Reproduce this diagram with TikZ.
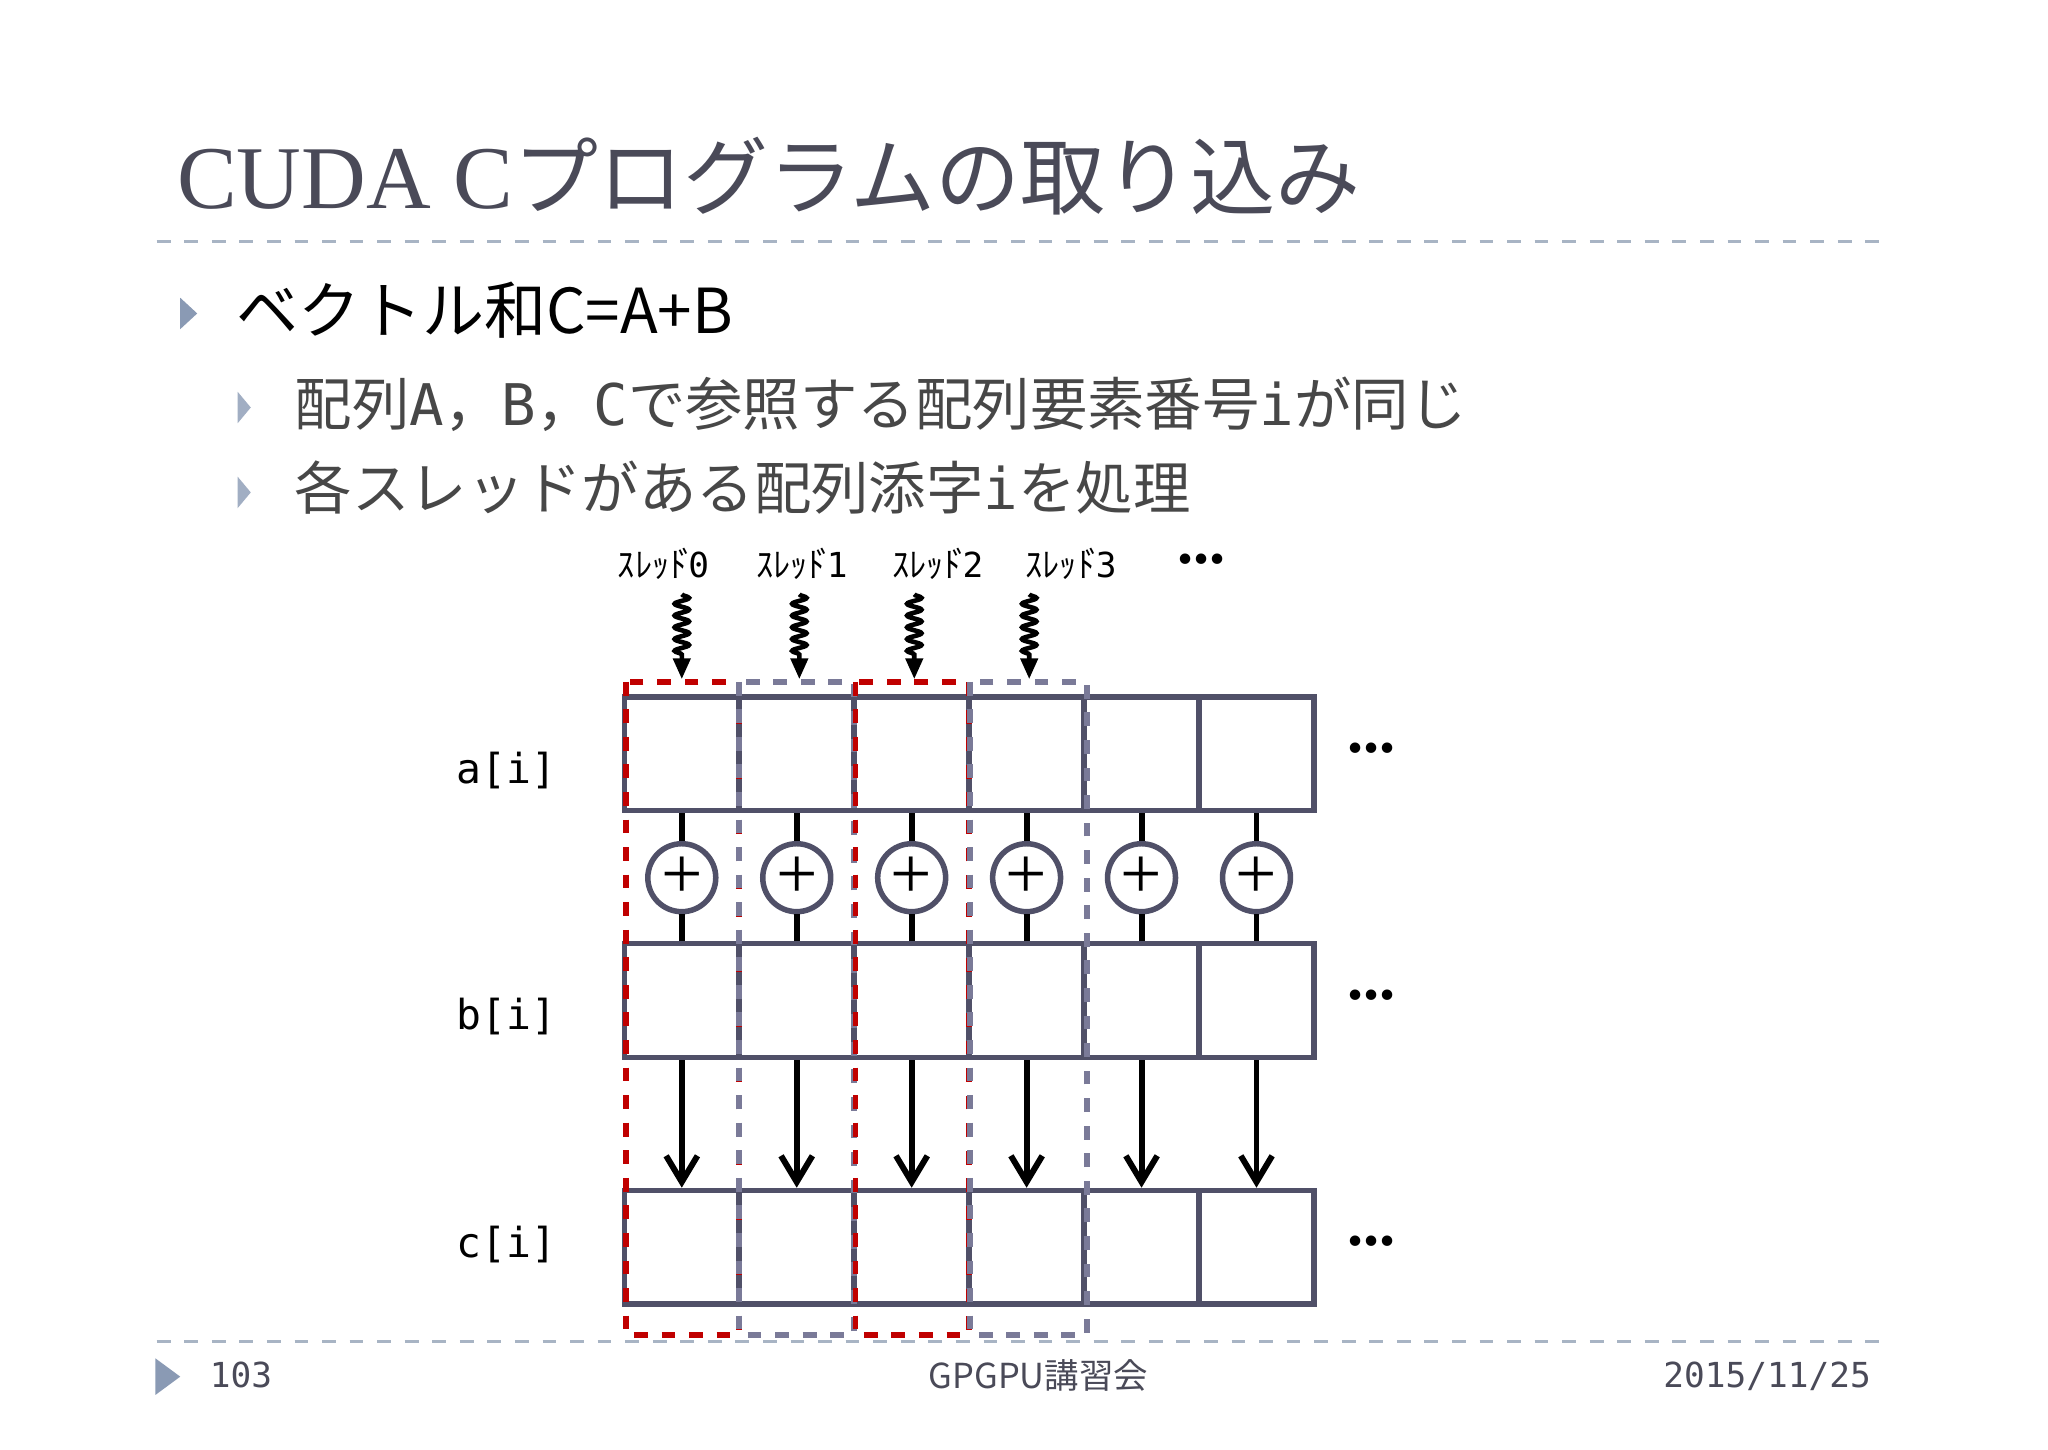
\documentclass[tikz,border=0pt]{standalone}
\usepackage{fontspec}
\setmainfont{Liberation Serif}
\newfontfamily\cjk{Noto Sans CJK JP}
\newfontfamily\mono{DejaVu Sans Mono}
\usetikzlibrary{decorations.pathmorphing,arrows.meta}
\definecolor{boxc}{HTML}{505068}
\definecolor{titc}{HTML}{4A4A58}
\definecolor{dashc}{HTML}{A8B4C4}
\definecolor{tric}{HTML}{8A9AB4}
\definecolor{redc}{HTML}{C00000}
\definecolor{grayd}{HTML}{7A7A98}
\tikzset{
 cell/.style={draw=boxc,line width=1.2pt,fill=white,minimum width=0.88cm,minimum height=0.87cm,inner sep=0},
 plus/.style={circle,draw=boxc,line width=1.2pt,fill=white,minimum size=0.52cm,inner sep=0,font=\fontsize{16pt}{16pt}\selectfont},
 lab/.style={font=\mono\fontsize{9pt}{9pt}\selectfont},
 thr/.style={font=\cjk\fontsize{7.5pt}{8pt}\selectfont},
 tri/.style={fill=tric,draw=none},
 foot/.style={font=\cjk\fontsize{7.5pt}{8pt}\selectfont,text=titc},
}
\begin{document}
\begin{tikzpicture}[x=0.01cm,y=-0.01cm]
\useasboundingbox (0,0) rectangle (1568,1110);
\fill[white] (0,0) rectangle (1568,1110);
% title
\node[anchor=base west,text=titc,inner sep=0] (title) at (135,160) {\fontsize{19.5pt}{22pt}\selectfont CUDA C\cjk\fontsize{18.5pt}{22pt}\selectfont プログラムの取り込み};
\draw[dashc,dashed,line width=0.6pt] (120,185) -- (1448,185);
% bullets
\fill[tric] (138,228) -- (151,240) -- (138,252) -- cycle;
\node[anchor=base west,inner sep=0] (b1) at (180,255) {\cjk\fontsize{13.5pt}{16pt}\selectfont ベクトル和C=A+B};
\fill[tric!80] (182,300) -- (192,312) -- (182,324) -- cycle;
\node[anchor=base west,inner sep=0,text=black!72] (b2) at (225,326) {\cjk\fontsize{12.5pt}{14pt}\selectfont 配列{\mono A}，{\mono B}，{\mono C}で参照する配列要素番号{\mono i}が同じ};
\fill[tric!80] (182,365) -- (192,377) -- (182,389) -- cycle;
\node[anchor=base west,inner sep=0,text=black!72] (b3) at (225,390) {\cjk\fontsize{12.5pt}{14pt}\selectfont 各スレッドがある配列添字{\mono i}を処理};
% threads
\foreach \i/\x/\cx in {0/508/522,1/614/612,2/718/700,3/820/788}{
 \node[thr] (t\i) at (\x,432) {ｽﾚｯﾄ\kern-0.25em ﾞ\kern-0.2em{\mono\i}};
 \coordinate (s\i) at (\cx,455);
 \coordinate (e\i) at (\cx,520);
 \draw[line width=1pt,decorate,decoration={snake,amplitude=0.055cm,segment length=0.09cm,post length=0.18cm},-{Triangle[length=0.16cm,width=0.13cm]}] (s\i) -- (e\i);
}
\node[font=\bfseries\fontsize{14pt}{14pt}\selectfont] (tdots) at (920,428) {...};
% cells
\foreach \c/\x in {0/522,1/610,2/698,3/786,4/874,5/962}{
 \node[cell] (a\c) at (\x,577) {};
 \node[cell] (b\c) at (\x,766) {};
 \node[cell] (c\c) at (\x,955) {};
 \node[plus] (p\c) at (\x,672) {+};
 \draw[line width=1.3pt] (a\c.south) -- (p\c);
 \draw[line width=1.3pt] (p\c) -- (b\c.north);
 \draw[line width=1.3pt,-{Straight Barb[length=0.2cm,width=0.24cm]}] (b\c.south) -- (c\c.north);
}
\node[lab] (la) at (388,590) {a[i]};
\node[lab] (lb) at (388,778) {b[i]};
\node[lab] (lc) at (388,953) {c[i]};
\foreach \y/\n in {573/da,762/db,950/dc}
 \node[font=\bfseries\fontsize{14pt}{14pt}\selectfont] (\n) at (1050,\y) {...};
% dashed frames
\draw[redc,dashed,line width=1.3pt] (479,522) rectangle (566,1022);
\draw[grayd,dashed,line width=1.3pt] (566,522) rectangle (654,1022);
\draw[redc,dashed,line width=1.3pt] (655,522) rectangle (742,1022);
\draw[grayd,dashed,line width=1.3pt] (743,522) rectangle (832,1022);
% footer
\draw[dashc,dashed,line width=0.6pt] (120,1027) -- (1448,1027);
\fill[tric] (119,1040) -- (138,1054) -- (119,1068) -- cycle;
\node[foot,anchor=base west,inner sep=0] (pg) at (160,1062) {\mono 103};
\node[foot] (ft) at (795,1053) {GPGPU講習会};
\node[foot,anchor=base east,inner sep=0] (dt) at (1433,1062) {\mono 2015/11/25};
\end{tikzpicture}
\end{document}
